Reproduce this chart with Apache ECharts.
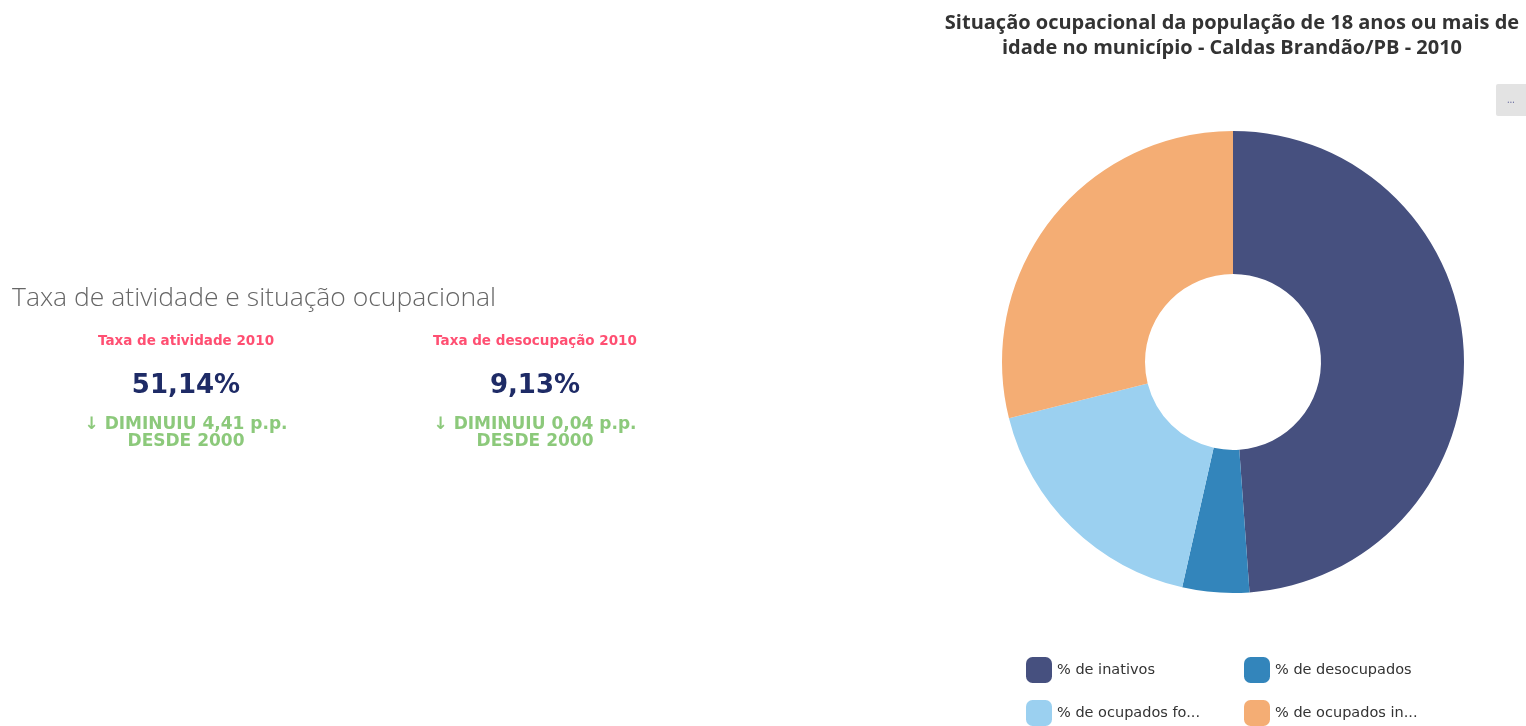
<!DOCTYPE html>
<html>
<head>
<meta charset="utf-8">
<style>
  html, body { margin: 0; padding: 0; background: #ffffff; }
  #chart { width: 1526px; height: 726px; }
</style>
<script src="https://cdn.jsdelivr.net/npm/echarts@6/dist/echarts.min.js"></script>
</head>
<body>
<div id="chart"></div>
<script>
// Donut: occupational situation of the population aged 18+ (Caldas Brandão/PB, 2010)
const categories = ['% de inativos', '% de desocupados', '% de ocupados formais', '% de ocupados informais'];
const shares = [48.86, 4.67, 17.55, 28.92];
const sliceColors = ['#46507f', '#3385bb', '#9bd0f0', '#f4ad74'];

// Indicator cards on the left
const cardTitles = ['Taxa de atividade 2010', 'Taxa de desocupação 2010'];
const cardValues = ['51,14%', '9,13%'];
const cardChanges = ['DIMINUIU 4,41 p.p.', 'DIMINUIU 0,04 p.p.'];
const cardSince = 'DESDE 2000';

const chart = echarts.init(document.getElementById('chart'), null, { renderer: 'canvas' });

const cardX = [186, 535];
const cardGraphics = [];
cardX.forEach((cx, i) => {
  cardGraphics.push(
    { type: 'text', x: cx, y: 341, style: { text: cardTitles[i], fill: '#ff4f72', font: 'bold 13.5px "DejaVu Sans"', align: 'center', verticalAlign: 'middle' } },
    { type: 'text', x: cx, y: 386, style: { text: cardValues[i], fill: '#1e2b66', font: 'bold 26px "DejaVu Sans"', align: 'center', verticalAlign: 'middle' } },
    { type: 'text', x: cx, y: 425, style: { text: '\u2193 ' + cardChanges[i], fill: '#8cc97b', font: 'bold 17px "DejaVu Sans"', align: 'center', verticalAlign: 'middle' } },
    { type: 'text', x: cx, y: 442, style: { text: cardSince, fill: '#8cc97b', font: 'bold 17px "DejaVu Sans"', align: 'center', verticalAlign: 'middle' } }
  );
});

const legendText = { color: '#333', fontSize: 14.5, fontFamily: 'DejaVu Sans', width: 149, overflow: 'truncate', ellipsis: '...' };

chart.setOption({
  animation: false,
  color: sliceColors,
  legend: [
    {
      orient: 'vertical', left: 1026, top: 657, height: 90, padding: 0,
      itemWidth: 26, itemHeight: 26, itemGap: 17,
      icon: 'roundRect', selectedMode: false, textStyle: legendText,
      data: [categories[0], categories[2]]
    },
    {
      orient: 'vertical', left: 1244, top: 657, height: 90, padding: 0,
      itemWidth: 26, itemHeight: 26, itemGap: 17,
      icon: 'roundRect', selectedMode: false, textStyle: legendText,
      data: [categories[1], categories[3]]
    }
  ],
  graphic: [
    { type: 'text', x: 1232, y: 11, style: { text: 'Situação ocupacional da população de 18 anos ou mais de\nidade no município - Caldas Brandão/PB - 2010', fill: '#333', font: 'bold 20px "Open Sans"', align: 'center', verticalAlign: 'top', lineHeight: 25 } },
    { type: 'text', x: 12, y: 298, style: { text: 'Taxa de atividade e situação ocupacional', fill: '#666', font: '300 26.5px "Open Sans"', verticalAlign: 'middle' } },
    { type: 'rect', shape: { x: 1496, y: 84, width: 32, height: 32, r: 2 }, style: { fill: '#e3e3e3' } },
    { type: 'text', x: 1511, y: 100, style: { text: '\u2026', fill: '#6b6fa0', font: '10px "Open Sans"', align: 'center', verticalAlign: 'middle' } }
  ].concat(cardGraphics),
  series: [
    {
      type: 'pie',
      center: [1233, 362],
      radius: [88, 231],
      startAngle: 90,
      clockwise: true,
      label: { show: false },
      labelLine: { show: false },
      itemStyle: { borderWidth: 0 },
      data: categories.map((name, i) => ({ name: name, value: shares[i] }))
    }
  ]
});
</script>
</body>
</html>
